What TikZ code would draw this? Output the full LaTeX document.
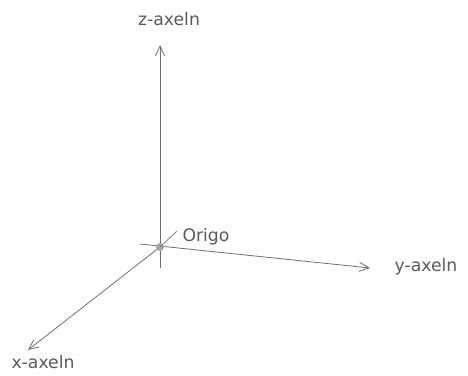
\documentclass[tikz,border=0pt]{standalone}
\usepackage{fontspec}
\setsansfont{DejaVu Sans}
\usetikzlibrary{arrows.meta,positioning}
\definecolor{Pencil}{HTML}{6E6E6E}
\definecolor{Lead}{HTML}{5A5A5A}

\begin{document}
\begin{tikzpicture}[x=0.0265cm,y=-0.0265cm,
    axis/.style={-{Straight Barb[length=2.6mm,width=2.4mm]},Pencil,line width=0.6pt},
    lbl/.style={text=Lead,font=\sffamily\fontsize{13}{15}\selectfont,inner sep=1pt}
  ]
    \useasboundingbox (0,0) rectangle (468,376);
    % origin and axis end points
    \coordinate (o) at (160,247);
    \coordinate (zend) at (160,45);
    \coordinate (yend) at (370,268);
    \coordinate (xend) at (28,350);
    \coordinate (ytail) at (140,244);
    \coordinate (ztail) at (160,268);
    \draw[axis] (ztail)--(zend);
    \draw[axis] (ytail)--(yend);
    \draw[axis] (o)--(xend);
    \fill[gray!70] (o) circle (4);
    \node[lbl] (zlab) at (169,19) {z-axeln};
    \node[lbl] (ylab) at (426,267) {y-axeln};
    \node[lbl] (xlab) at (43,362) {x-axeln};
    \node[lbl] (origo) at (206,237) {Origo};
    \coordinate (otip) at (177,231);
    \draw[Pencil,line width=0.5pt] (o)--(otip);
  \end{tikzpicture}
\end{document}
